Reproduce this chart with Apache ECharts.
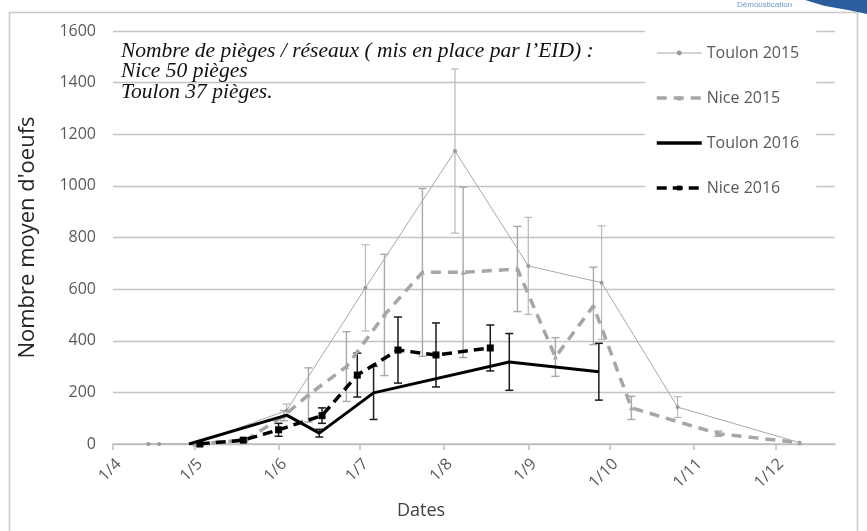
<!DOCTYPE html>
<html>
<head>
<meta charset="utf-8">
<script src="https://cdn.jsdelivr.net/npm/echarts@6/dist/echarts.min.js"></script>
<style>
html,body{margin:0;padding:0;background:#fff;}
#chart{width:867px;height:531px;}
</style>
</head>
<body>
<div id="chart"></div>
<script>
// ---- Data ----
const seriesNames = ['Toulon 2015', 'Nice 2015', 'Toulon 2016', 'Nice 2016'];

const toulon2015Dates = ['04-14', '04-18', '05-01', '06-04', '07-03', '08-05', '09-01', '09-28', '10-26', '12-10'];
const toulon2015Vals  = [0, 0, 0, 130, 605, 1135, 690, 625, 143, 5];
const toulon2015Err   = [0, 0, 0, 25, 167, 318, 188, 220, 40, 0];

const nice2015Dates = ['05-01', '05-20', '06-03', '06-12', '06-26', '07-10', '07-24', '08-08', '08-28', '09-11', '09-25', '10-09', '11-10', '12-10'];
const nice2015Vals  = [0, 15, 110, 190, 300, 500, 665, 665, 678, 337, 535, 140, 40, 5];
const nice2015Err   = [0, 0, 20, 105, 135, 235, 325, 330, 165, 75, 150, 45, 10, 0];

const toulon2016Dates = ['04-29', '06-04', '06-16', '07-06', '08-25', '09-27'];
const toulon2016Vals  = [0, 112, 42, 198, 318, 280];
const toulon2016Err   = [0, 0, 15, 103, 110, 110];

const nice2016Dates = ['05-03', '05-19', '06-01', '06-17', '06-30', '07-15', '07-29', '08-18'];
const nice2016Vals  = [0, 15, 55, 110, 267, 364, 345, 372];
const nice2016Err   = [0, 5, 25, 30, 85, 128, 124, 89];

const yTicks = [0, 200, 400, 600, 800, 1000, 1200, 1400, 1600];
const xAxisStart = '04-01';
const xAxisEnd = '12-23';

const annotationLines = [
  'Nombre de pièges / réseaux ( mis en place par l\u2019EID) :',
  'Nice 50 pièges',
  'Toulon 37 pièges.'
];

// ---- Helpers ----
function toTs(s) {
  const p = s.split('-').map(Number);
  return new Date(2015, p[0] - 1, p[1]).getTime();
}
function pts(dates, vals) {
  return dates.map((d, i) => [toTs(d), vals[i]]);
}
function errPts(dates, vals, errs) {
  const out = [];
  dates.forEach((d, i) => {
    if (errs[i] > 0) out.push([toTs(d), vals[i] - errs[i], vals[i] + errs[i]]);
  });
  return out;
}
function errSeries(name, data, color, width) {
  return {
    name: name,
    type: 'custom',
    data: data,
    z: 1,
    silent: true,
    encode: { x: 0, y: [1, 2] },
    renderItem: function (params, api) {
      const x = api.value(0);
      const lo = api.coord([x, api.value(1)]);
      const hi = api.coord([x, api.value(2)]);
      const hw = 4;
      const st = { stroke: color, lineWidth: width, fill: null };
      return {
        type: 'group',
        children: [
          { type: 'line', shape: { x1: lo[0], y1: lo[1], x2: hi[0], y2: hi[1] }, style: st },
          { type: 'line', shape: { x1: lo[0] - hw, y1: lo[1], x2: lo[0] + hw, y2: lo[1] }, style: st },
          { type: 'line', shape: { x1: hi[0] - hw, y1: hi[1], x2: hi[0] + hw, y2: hi[1] }, style: st }
        ]
      };
    }
  };
}

const chart = echarts.init(document.getElementById('chart'), null, { renderer: 'canvas' });

const option = {
  animation: false,
  backgroundColor: '#fff',
  grid: { left: 113, right: 32, top: 31, bottom: 87, containLabel: false },
  xAxis: {
    type: 'time',
    min: toTs(xAxisStart),
    max: toTs(xAxisEnd),
    splitNumber: 9,
    minInterval: 28 * 86400000,
    maxInterval: 31 * 86400000,
    name: 'Dates',
    nameLocation: 'middle',
    nameGap: 58,
    nameTextStyle: { fontFamily: 'Open Sans', fontSize: 18, color: '#404040', padding: [0, 106, 0, 0] },
    axisLine: { show: true, lineStyle: { color: '#bfbfbf', width: 1.5 } },
    axisTick: { show: true, length: 6, lineStyle: { color: '#bfbfbf', width: 1.5 } },
    splitLine: { show: false },
    axisLabel: {
      rotate: 45,
      margin: 12,
      verticalAlign: 'top',
      fontFamily: 'Open Sans',
      fontSize: 16,
      color: '#595959',
      hideOverlap: false,
      formatter: function (val) {
        const d = new Date(val);
        if (d.getDate() !== 1) return '';
        return '1/' + (d.getMonth() + 1);
      }
    }
  },
  yAxis: {
    type: 'value',
    min: yTicks[0],
    max: yTicks[yTicks.length - 1],
    interval: 200,
    name: 'Nombre moyen d\'oeufs',
    nameLocation: 'middle',
    nameGap: 74,
    nameTextStyle: { fontFamily: 'Open Sans', fontSize: 22, color: '#262626' },
    axisLine: { show: false },
    axisTick: { show: false },
    splitLine: { show: true, lineStyle: { color: '#c4c4c4', width: 1.4 } },
    axisLabel: {
      margin: 17, fontFamily: 'Open Sans', fontSize: 16, color: '#595959',
      formatter: function (v) { return String(v); }
    }
  },
  legend: {
    data: [
      { name: seriesNames[0], lineStyle: { width: 1 } },
      { name: seriesNames[1], lineStyle: { width: 3.5 } },
      { name: seriesNames[2], lineStyle: { width: 3.5 }, itemStyle: { color: 'rgba(0,0,0,0)', borderWidth: 0 } },
      { name: seriesNames[3], lineStyle: { width: 3.5 } }
    ],
    orient: 'vertical',
    left: 645,
    top: 28,
    padding: [17, 17, 22, 10],
    itemGap: 29,
    itemWidth: 45,
    itemHeight: 6,
    backgroundColor: '#ffffff',
    textStyle: { fontFamily: 'Open Sans', fontSize: 16, color: '#595959' }
  },
  graphic: [
    {
      type: 'rect', silent: true, z: 0,
      shape: { x: 9.5, y: 12.5, width: 848, height: 530 },
      style: { fill: null, stroke: '#c8c8c8', lineWidth: 1.5 }
    },
    {
      type: 'text', left: 121, top: 40, z: 100, silent: true,
      style: {
        text: annotationLines.join('\n'),
        font: 'italic 21.5px "Liberation Serif", "DejaVu Serif", serif',
        lineHeight: 20.5,
        fill: '#111'
      }
    },
    {
      type: 'text', left: 737, top: 1, silent: true,
      style: { text: 'Démoustication', font: '8px "Liberation Sans", sans-serif', fill: '#6a98cc' }
    },
    {
      type: 'polygon', silent: true,
      shape: { points: [[805, 0], [867, 0], [867, 14], [848, 10], [825, 6]] },
      style: { fill: '#2a5d9b' }
    }
  ],
  series: [
    errSeries('errT15', errPts(toulon2015Dates, toulon2015Vals, toulon2015Err), '#b8b8b8', 1.2),
    errSeries('errN15', errPts(nice2015Dates, nice2015Vals, nice2015Err), '#a8a8a8', 1.4),
    errSeries('errT16', errPts(toulon2016Dates, toulon2016Vals, toulon2016Err), '#1a1a1a', 1.5),
    errSeries('errN16', errPts(nice2016Dates, nice2016Vals, nice2016Err), '#1a1a1a', 1.5),
    {
      name: seriesNames[0], type: 'line', z: 3,
      data: pts(toulon2015Dates, toulon2015Vals),
      symbol: 'circle', symbolSize: 4, showSymbol: true,
      lineStyle: { color: '#a8a8a8', width: 1 },
      itemStyle: { color: '#999999' }
    },
    {
      name: seriesNames[1], type: 'line', z: 4,
      data: pts(nice2015Dates, nice2015Vals),
      symbol: 'triangle', symbolSize: 5, showSymbol: true,
      lineStyle: { color: '#a6a6a6', width: 3.5, type: [10, 7] },
      itemStyle: { color: '#a6a6a6' }
    },
    {
      name: seriesNames[2], type: 'line', z: 5,
      data: pts(toulon2016Dates, toulon2016Vals),
      symbol: 'none',
      lineStyle: { color: '#000000', width: 3 },
      itemStyle: { color: '#000000' }
    },
    {
      name: seriesNames[3], type: 'line', z: 6,
      data: pts(nice2016Dates, nice2016Vals),
      symbol: 'rect', symbolSize: 7, showSymbol: true,
      lineStyle: { color: '#000000', width: 3.5, type: [10, 6] },
      itemStyle: { color: '#000000' }
    }
  ]
};

chart.setOption(option);
</script>
</body>
</html>
